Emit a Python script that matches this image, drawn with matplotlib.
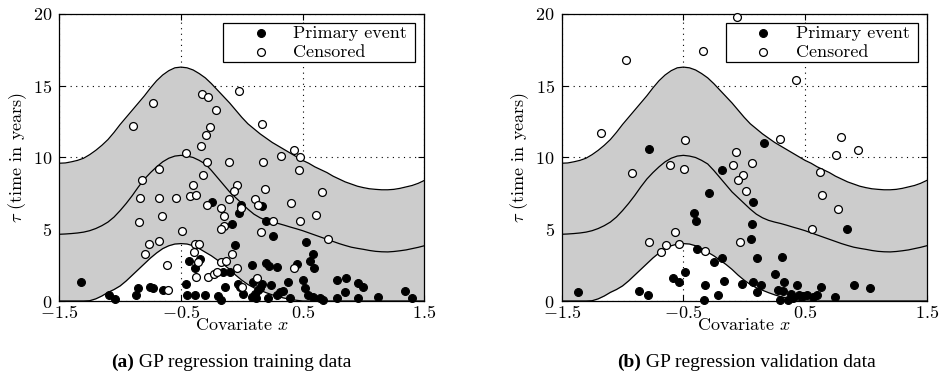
import numpy as np
import matplotlib
matplotlib.use('Agg')
import matplotlib.pyplot as plt

plt.rcParams['font.family'] = 'serif'
plt.rcParams['font.serif'] = ['cmr10']
plt.rcParams['mathtext.fontset'] = 'cm'
plt.rcParams['axes.unicode_minus'] = False
plt.rcParams['axes.formatter.use_mathtext'] = True

# GP posterior curves
grid_x = [-1.5, -1.45, -1.4, -1.35, -1.3, -1.25, -1.2, -1.15, -1.1, -1.05, -1.0, -0.95, -0.9, -0.85, -0.8,
          -0.75, -0.7, -0.65, -0.6, -0.55, -0.5, -0.45, -0.4, -0.35, -0.3, -0.25, -0.2, -0.15, -0.1, -0.05,
          0.0, 0.05, 0.1, 0.15, 0.2, 0.25, 0.3, 0.35, 0.4, 0.45, 0.5, 0.55, 0.6, 0.65, 0.7,
          0.75, 0.8, 0.85, 0.9, 0.95, 1.0, 1.05, 1.1, 1.15, 1.2, 1.25, 1.3, 1.35, 1.4, 1.45, 1.5]
upper = [9.6, 9.62, 9.7, 9.8, 9.95, 10.2, 10.5, 10.85, 11.25, 11.75, 12.3, 12.8, 13.3, 13.8, 14.3,
         14.85, 15.35, 15.75, 16.05, 16.25, 16.3, 16.25, 16.1, 15.85, 15.55, 15.15, 14.7, 14.25, 13.8, 13.3,
         12.8, 12.35, 12.0, 11.65, 11.35, 11.05, 10.8, 10.55, 10.3, 10.05, 9.8, 9.6, 9.35, 9.15, 8.95,
         8.7, 8.5, 8.3, 8.15, 8.0, 7.9, 7.82, 7.78, 7.75, 7.75, 7.78, 7.85, 7.95, 8.05, 8.2, 8.4]
mean = [4.65, 4.67, 4.7, 4.74, 4.8, 4.9, 5.05, 5.25, 5.5, 5.85, 6.3, 6.8, 7.35, 7.95, 8.5,
        8.95, 9.35, 9.7, 9.95, 10.1, 10.15, 10.1, 10.0, 9.8, 9.55, 9.1, 8.6, 8.1, 7.6, 7.2,
        6.8, 6.4, 6.05, 5.8, 5.62, 5.5, 5.4, 5.28, 5.15, 5.03, 4.9, 4.75, 4.6, 4.45, 4.3,
        4.15, 4.0, 3.87, 3.75, 3.67, 3.6, 3.52, 3.46, 3.43, 3.42, 3.45, 3.5, 3.56, 3.65, 3.74, 3.85]
lower = [0.0, 0.0, 0.0, 0.0, 0.0, 0.02, 0.15, 0.35, 0.6, 0.8, 1.05, 1.4, 1.8, 2.2, 2.6,
         3.0, 3.35, 3.65, 3.85, 3.97, 4.0, 3.97, 3.85, 3.65, 3.4, 3.15, 2.85, 2.55, 2.2, 1.8,
         1.45, 1.15, 0.92, 0.75, 0.58, 0.43, 0.3, 0.2, 0.12, 0.05, 0.0, 0.0, 0.0, 0.0, 0.0,
         0.0, 0.0, 0.0, 0.0, 0.0, 0.0, 0.0, 0.0, 0.0, 0.0, 0.0, 0.0, 0.0, 0.0, 0.0, 0.0]

# training data
train_event_x = [-1.322, -1.089, -1.045, -0.867, -0.851, -0.758, -0.733, -0.645, -0.459, -0.453, -0.382, -0.305,
                 -0.432, -0.385, -0.340, -0.248, -0.078, -0.056, -0.026, -0.010, 0.166, 0.201, 0.256, 0.525,
                 0.589, 0.562, 0.595, 0.450, 0.379, 0.081, 0.196, 0.226, 0.286, -0.153, -0.097, -0.138,
                 -0.193, -0.170, -0.032, -0.012, 0.007, 0.09, 0.13, 0.084, 0.108, 0.149, 0.116, 0.163,
                 0.237, 0.212, 0.286, 0.314, 0.341, 0.396, 0.505, 0.519, 0.546, 0.587, 0.642, 0.664,
                 0.779, 0.856, 0.848, 0.779, 0.957, 0.998, 0.957, 1.12, 1.34, 1.396]
train_event_y = [1.3, 0.4, 0.15, 0.45, 0.9, 1.0, 0.9, 0.8, 1.2, 0.4, 0.4, 0.4,
                 2.8, 2.3, 2.9, 6.9, 5.4, 3.9, 6.1, 6.7, 6.6, 5.6, 4.5, 4.1,
                 3.3, 2.8, 2.3, 2.6, 1.3, 2.5, 2.65, 2.45, 2.4, 2.0, 2.05, 0.95,
                 0.35, 0.1, 1.2, 1.0, 0.5, 1.35, 0.75, 0.3, 0.5, 0.9, 0.2, 1.2,
                 1.1, 0.2, 0.4, 0.65, 0.7, 0.2, 1.45, 0.9, 0.45, 0.3, 0.2, 0.1,
                 1.46, 1.58, 0.65, 0.2, 1.23, 0.95, 0.19, 0.3, 0.72, 0.19]
train_cens_x = [-0.897, -0.727, -0.325, -0.278, -0.021, -0.212, -0.259, -0.297, 0.163, -0.338, -0.459, -0.285,
                -0.108, 0.171, 0.319, 0.429, 0.478, 0.470, -0.681, -0.818, -0.322, -0.399, -0.040, -0.062,
                0.190, 0.656, -0.837, -0.681, -0.541, -0.429, -0.379, -0.108, 0.108, 0.136, -0.289, -0.171,
                0.404, -0.010, 0.607, -0.655, -0.147, -0.842, 0.259, 0.481, -0.150, -0.174, -0.495, 0.155,
                0.705, -0.679, -0.766, -0.385, -0.355, -0.792, -0.390, -0.081, -0.174, -0.133, -0.358, -0.618,
                -0.037, 0.426, -0.373, -0.281, -0.232, -0.207, 0.127, 0.001, -0.604, 0.02]
train_cens_y = [12.2, 13.8, 14.4, 14.2, 14.6, 13.3, 12.1, 11.6, 12.3, 10.8, 10.3, 9.7,
                9.7, 9.7, 10.1, 10.5, 10.0, 9.1, 9.2, 8.4, 8.8, 8.1, 8.1, 7.7,
                7.8, 7.6, 7.2, 7.2, 7.2, 7.3, 7.4, 7.1, 7.1, 6.7, 6.7, 6.5,
                6.8, 6.5, 6.0, 5.9, 5.9, 5.5, 5.6, 5.6, 5.2, 5.0, 4.9, 4.8,
                4.3, 4.2, 4.0, 4.0, 3.95, 3.3, 3.4, 3.3, 2.7, 2.8, 2.7, 2.5,
                2.3, 2.3, 1.7, 1.7, 1.9, 2.0, 1.6, 1.0, 0.8, 16.95]

# validation data
val_event_x = [-0.785, 0.160, -0.179, -0.286, 0.070, -0.410, -0.396, 0.062, 0.053, 0.845, -0.390, -0.179,
               0.108, 0.308, -0.251, 0.256, -0.489, -0.584, -0.534, -0.864, -0.788, -0.319, -0.215, -0.327,
               -0.163, -0.018, 0.073, 0.138, 0.108, -1.366, 0.327, 0.281, 0.321, 0.295, 0.358, 0.382,
               0.434, 0.448, 0.486, 0.514, 0.568, 0.596, 0.629, 0.747, 0.905, 1.034, 0.404]
val_event_y = [10.6, 11.0, 9.1, 7.5, 6.9, 6.1, 5.6, 5.4, 4.3, 5.0, 3.6, 3.0,
               3.0, 3.1, 2.7, 1.9, 2.0, 1.6, 1.3, 0.7, 0.4, 1.1, 0.4, 0.1,
               1.4, 1.2, 1.3, 1.1, 0.6, 0.6, 1.3, 0.8, 0.7, 0.1, 0.1, 0.5,
               1.1, 0.4, 0.35, 0.4, 0.3, 0.4, 1.0, 0.3, 1.1, 0.9, 0.2]
val_cens_x = [-0.059, -0.341, -0.971, 0.429, -1.177, -0.486, 0.297, 0.796, 0.752, 0.933, -0.070, -0.607,
              -0.492, -0.922, -0.092, 0.062, -0.010, -0.048, 0.012, 0.623, 0.642, 0.768, 0.558, -0.571,
              -0.779, -0.645, -0.533, -0.684, -0.325, -0.032]
val_cens_y = [19.8, 17.4, 16.8, 15.4, 11.7, 11.2, 11.3, 11.4, 10.2, 10.5, 10.4, 9.5,
              9.2, 8.9, 9.5, 9.6, 8.8, 8.4, 7.7, 9.0, 7.4, 6.4, 5.0, 4.8,
              4.1, 3.9, 4.0, 3.4, 3.5, 4.1]

series_labels = ['Primary event ', 'Censored']
x_ticks = [-1.5, -0.5, 0.5, 1.5]
x_tick_labels = [r'$-1.5$', r'$-0.5$', r'$0.5$', r'$1.5$']
y_ticks = [0, 5, 10, 15, 20]
y_tick_labels = [r'$0$', r'$5$', r'$10$', r'$15$', r'$20$']

FS = 13

fig = plt.figure(figsize=(9.39, 3.76), dpi=100)


def draw_panel(ax, ev_x, ev_y, ce_x, ce_y):
    ax.set_axisbelow(True)
    ax.grid(True, linestyle=(0, (1, 4)), color='black', linewidth=0.8)
    ax.fill_between(grid_x, lower, upper, color='#cccccc', linewidth=0, zorder=1)
    ax.plot(grid_x, upper, color='black', linewidth=0.9, zorder=2)
    ax.plot(grid_x, mean, color='black', linewidth=0.9, zorder=2)
    ax.plot(grid_x, lower, color='black', linewidth=0.9, zorder=2)
    ax.scatter(ev_x, ev_y, s=32, c='black', edgecolors='black', linewidths=0.8,
               zorder=3, label=series_labels[0], clip_on=False)
    ax.scatter(ce_x, ce_y, s=32, c='white', edgecolors='black', linewidths=0.9,
               zorder=3, label=series_labels[1], clip_on=False)
    ax.set_xlim(-1.5, 1.5)
    ax.set_ylim(0, 20)
    ax.set_xticks(x_ticks)
    ax.set_xticklabels(x_tick_labels)
    ax.set_yticks(y_ticks)
    ax.set_yticklabels(y_tick_labels)
    ax.tick_params(direction='in', top=True, right=True, length=4, width=0.8, labelsize=FS)
    ax.tick_params(axis='x', pad=2)
    ax.tick_params(axis='y', pad=5)
    for sp in ax.spines.values():
        sp.set_linewidth(0.9)
    ax.set_xlabel('Covariate $x$', fontsize=FS, labelpad=-3)
    ax.set_ylabel(r'$\tau$ (time in years)', fontsize=FS, labelpad=3)
    leg = ax.legend(loc='upper right', fontsize=FS, frameon=True, fancybox=False,
                    edgecolor='black', framealpha=1, borderpad=0.12, handlelength=3.9,
                    handletextpad=-0.15, labelspacing=0.17, borderaxespad=0.5)
    leg.get_frame().set_linewidth(0.9)
    leg.set_zorder(5)


ax1 = fig.add_axes([59.3 / 939, 75 / 376, 365 / 939, 287 / 376])
draw_panel(ax1, train_event_x, train_event_y, train_cens_x, train_cens_y)
ax2 = fig.add_axes([561.7 / 939, 75 / 376, 365 / 939, 287 / 376])
draw_panel(ax2, val_event_x, val_event_y, val_cens_x, val_cens_y)

captions = [(111, '(a)', ' GP regression training data'),
            (617, '(b)', ' GP regression validation data')]
fig.canvas.draw()
for px, tag, rest in captions:
    t = fig.text(px / 939, 1 - 367 / 376, tag, fontfamily='Liberation Serif', fontweight='bold',
                 fontsize=14, ha='left', va='baseline')
    fig.canvas.draw()
    bb = t.get_window_extent()
    fig.text(bb.x1 / fig.bbox.width, 1 - 367 / 376, rest, fontfamily='Liberation Serif',
             fontsize=14, ha='left', va='baseline')

fig.savefig('out.png', dpi=100)
